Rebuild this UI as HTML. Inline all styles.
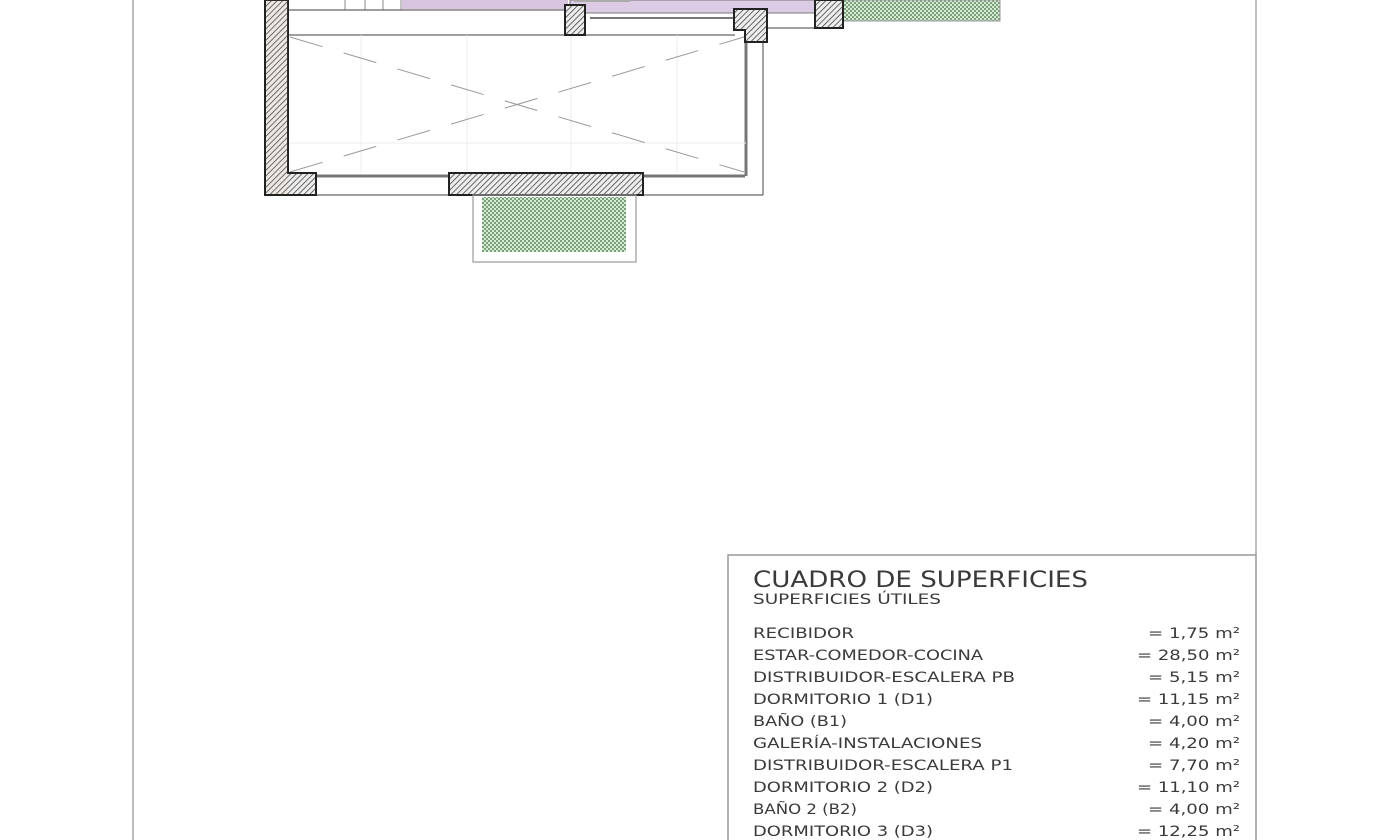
<!DOCTYPE html>
<html><head><meta charset="utf-8"><style>
html,body{margin:0;padding:0;background:#fff;width:1390px;height:840px;overflow:hidden}
svg{display:block}
text{font-family:"DejaVu Sans","Liberation Sans",sans-serif;fill:#3a3a3a}
</style></head><body>
<svg width="1390" height="840" viewBox="0 0 1390 840" xmlns="http://www.w3.org/2000/svg">
<defs>
<pattern id="h" width="4" height="4" patternUnits="userSpaceOnUse" patternTransform="rotate(45)">
<rect width="4" height="4" fill="#eee"/><line x1="0" y1="0" x2="0" y2="4" stroke="#444" stroke-width="1.6"/></pattern>
<pattern id="g" width="4" height="4" patternUnits="userSpaceOnUse">
<rect width="4" height="4" fill="#d6ead6"/><rect width="2" height="2" fill="#7aa07a"/><rect x="2" y="2" width="2" height="2" fill="#7aa07a"/></pattern>
</defs>
<line x1="133" y1="0" x2="133" y2="840" stroke="#bbb" stroke-width="2"/>
<line x1="1256" y1="0" x2="1256" y2="555" stroke="#aaa" stroke-width="1.5"/>
<polyline points="728,840 728,555 1256,555 1256,840" fill="none" stroke="#999" stroke-width="1.5"/>
<rect x="402" y="0" width="166" height="9" fill="#d8c6e0"/>
<rect x="570" y="0" width="248" height="13" fill="#dccbe4" stroke="#777" stroke-width="1"/>
<rect x="574" y="0" width="56" height="2" fill="#aaa"/>
<g stroke="#888" stroke-width="1"><line x1="345" y1="0" x2="345" y2="10"/><line x1="365" y1="0" x2="365" y2="10"/><line x1="383" y1="0" x2="383" y2="10"/><line x1="401" y1="0" x2="401" y2="10"/></g>
<rect x="843" y="0" width="157" height="21" fill="url(#g)" stroke="#999"/>
<g stroke="#666" stroke-width="1.2" fill="none">
<line x1="288" y1="10" x2="565" y2="10"/>
<line x1="288" y1="35" x2="735" y2="35"/>
<line x1="265" y1="195" x2="763" y2="195"/>
<line x1="763" y1="28" x2="763" y2="195"/>
<line x1="843" y1="28" x2="750" y2="28"/>
</g>
<g stroke="#777" stroke-width="3" fill="none">
<line x1="316" y1="176" x2="449" y2="176"/>
<line x1="643" y1="176" x2="745" y2="176"/>
<line x1="746" y1="42" x2="746" y2="176"/>
<line x1="590" y1="18" x2="735" y2="18" stroke-width="2"/>
</g>
<g stroke="#ececec" stroke-width="1">
<line x1="361" y1="35" x2="361" y2="173"/><line x1="467" y1="35" x2="467" y2="173"/>
<line x1="571" y1="35" x2="571" y2="173"/><line x1="677" y1="35" x2="677" y2="173"/>
<line x1="288" y1="143" x2="746" y2="143"/>
</g>
<g stroke="#999" stroke-width="1" stroke-dasharray="34,22">
<line x1="290" y1="37" x2="744" y2="172"/>
<line x1="290" y1="172" x2="744" y2="37"/>
</g>
<g fill="url(#h)" stroke="#222" stroke-width="2">
<path d="M265,0 H288 V173 H316 V195 H265 Z"/>
<rect x="449" y="173" width="194" height="22"/>
<rect x="565" y="5" width="20" height="30"/>
<path d="M734,9 H767 V42 H745 V30 H734 Z"/>
<rect x="815" y="0" width="28" height="28"/>
</g>
<rect x="266" y="0" width="22" height="194" fill="#d8a070" opacity="0.08"/>
<rect x="473" y="195" width="163" height="67" fill="none" stroke="#999" stroke-width="1.2"/>
<rect x="482" y="197" width="144" height="55" fill="url(#g)"/>
<text x="753" y="587" font-size="22" textLength="335" lengthAdjust="spacingAndGlyphs">CUADRO DE SUPERFICIES</text>
<text x="753" y="604" font-size="14" textLength="188" lengthAdjust="spacingAndGlyphs">SUPERFICIES ÚTILES</text>
<g font-size="14.5">
<text x="753" y="638" textLength="101" lengthAdjust="spacingAndGlyphs">RECIBIDOR</text>
<text x="753" y="660" textLength="230" lengthAdjust="spacingAndGlyphs">ESTAR-COMEDOR-COCINA</text>
<text x="753" y="682" textLength="262" lengthAdjust="spacingAndGlyphs">DISTRIBUIDOR-ESCALERA PB</text>
<text x="753" y="704" textLength="180" lengthAdjust="spacingAndGlyphs">DORMITORIO 1 (D1)</text>
<text x="753" y="726" textLength="94" lengthAdjust="spacingAndGlyphs">BAÑO  (B1)</text>
<text x="753" y="748" textLength="229" lengthAdjust="spacingAndGlyphs">GALERÍA-INSTALACIONES</text>
<text x="753" y="770" textLength="260" lengthAdjust="spacingAndGlyphs">DISTRIBUIDOR-ESCALERA P1</text>
<text x="753" y="792" textLength="180" lengthAdjust="spacingAndGlyphs">DORMITORIO 2 (D2)</text>
<text x="753" y="814" textLength="104" lengthAdjust="spacingAndGlyphs">BAÑO 2 (B2)</text>
<text x="753" y="836" textLength="180" lengthAdjust="spacingAndGlyphs">DORMITORIO 3 (D3)</text>
</g>
<g font-size="14.5">
<text x="1148" y="638" textLength="92" lengthAdjust="spacingAndGlyphs">= 1,75 m²</text>
<text x="1137" y="660" textLength="103" lengthAdjust="spacingAndGlyphs">= 28,50 m²</text>
<text x="1148" y="682" textLength="92" lengthAdjust="spacingAndGlyphs">= 5,15 m²</text>
<text x="1137" y="704" textLength="103" lengthAdjust="spacingAndGlyphs">= 11,15 m²</text>
<text x="1148" y="726" textLength="92" lengthAdjust="spacingAndGlyphs">= 4,00 m²</text>
<text x="1148" y="748" textLength="92" lengthAdjust="spacingAndGlyphs">= 4,20 m²</text>
<text x="1148" y="770" textLength="92" lengthAdjust="spacingAndGlyphs">= 7,70 m²</text>
<text x="1137" y="792" textLength="103" lengthAdjust="spacingAndGlyphs">= 11,10 m²</text>
<text x="1148" y="814" textLength="92" lengthAdjust="spacingAndGlyphs">= 4,00 m²</text>
<text x="1137" y="836" textLength="103" lengthAdjust="spacingAndGlyphs">= 12,25 m²</text>
</g>
</svg>
</body></html>
